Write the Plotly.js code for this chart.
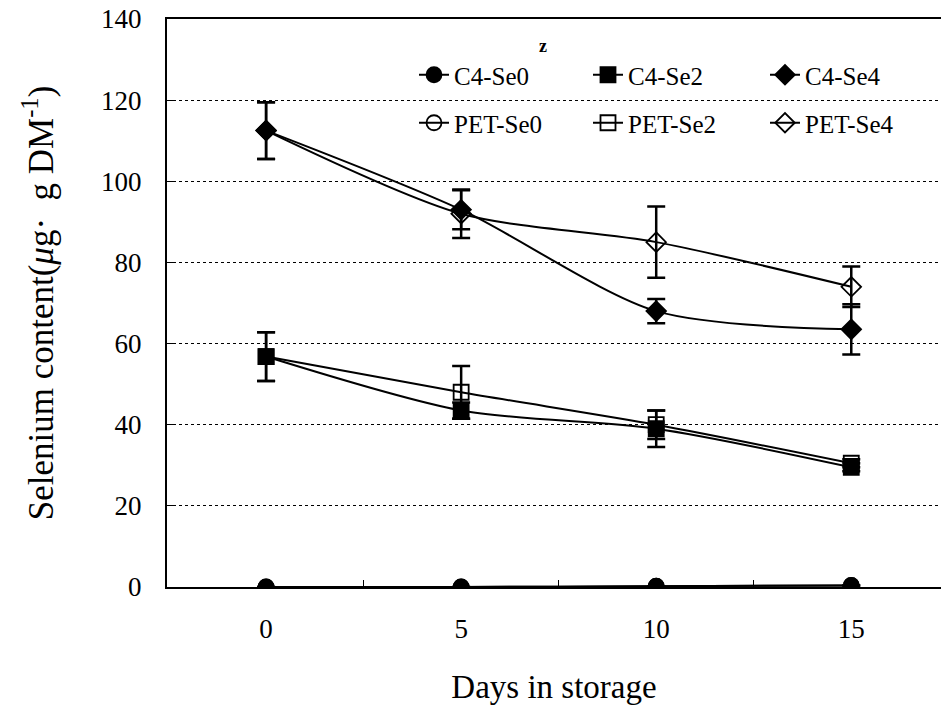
<!DOCTYPE html>
<html>
<head>
<meta charset="utf-8">
<script src="https://cdn.plot.ly/plotly-3.0.1.min.js"></script>
<style>html,body{margin:0;padding:0;background:#fff;}#chart{width:941px;height:714px;}</style>
</head>
<body>
<div id="chart"></div>
<script>
const days = [0, 5, 10, 15];
const tickLabels = ['0', '5', '10', '15'];

const c4Se0 = [0, 0, 0.2, 0.4];
const c4Se0Err = [0, 0, 0, 0];
const petSe0 = [0, 0, 0.2, 0.4];
const petSe0Err = [0, 0, 0, 0];

const c4Se2 = [56.8, 43.5, 39, 29.5];
const c4Se2Err = [6, 2, 4.5, 1];
const petSe2 = [56.8, 48, 40, 30.5];
const petSe2Err = [6, 6.5, 3.5, 1];

const c4Se4 = [112.5, 93, 68, 63.5];
const c4Se4Err = [7, 4.8, 3, 6.2];
const petSe4 = [112.5, 92, 85, 74];
const petSe4Err = [7, 6, 8.8, 5];

const seriesNames = ['C4-Se0', 'C4-Se2', 'C4-Se4', 'PET-Se0', 'PET-Se2', 'PET-Se4'];

const font = '"Liberation Serif", "Times New Roman", serif';

function tr(name, y, err, symbol, legend) {
  return {
    x: days, y: y, name: name, type: 'scatter', mode: 'lines+markers',
    legend: legend,
    line: {color: '#000', width: 2, shape: 'spline', smoothing: 0.8},
    marker: {symbol: symbol, size: 15, color: '#000', line: {color: '#000', width: 1.8}},
    error_y: {type: 'data', array: err, visible: true, color: '#000', thickness: 2.5, width: 9}
  };
}

const data = [
  tr(seriesNames[3], petSe0, petSe0Err, 'circle-open', 'legend4'),
  tr(seriesNames[4], petSe2, petSe2Err, 'square-open', 'legend5'),
  tr(seriesNames[5], petSe4, petSe4Err, 'diamond-open', 'legend6'),
  tr(seriesNames[0], c4Se0, c4Se0Err, 'circle', 'legend'),
  tr(seriesNames[1], c4Se2, c4Se2Err, 'square', 'legend2'),
  tr(seriesNames[2], c4Se4, c4Se4Err, 'diamond', 'legend3')
];

const W = 941, H = 714;
const ML = 167, MR = 0, MT = 19, MB = 127;
const PW = W - ML - MR, PH = H - MT - MB;
function leg(px, py) {
  return {
    orientation: 'v', xref: 'paper', yref: 'paper',
    x: (px - ML) / PW, y: 1 - (py - MT) / PH, xanchor: 'left', yanchor: 'middle',
    bgcolor: 'rgba(0,0,0,0)', borderwidth: 0,
    font: {family: font, size: 25, color: '#000'}
  };
}

const layout = {
  width: W, height: H,
  margin: {l: ML, r: MR, t: MT, b: MB},
  paper_bgcolor: '#fff', plot_bgcolor: '#fff',
  font: {family: font, color: '#000'},
  showlegend: true,
  legend: leg(414, 75),
  legend2: leg(588, 75),
  legend3: leg(765, 75),
  legend4: leg(414, 123),
  legend5: leg(588, 123),
  legend6: leg(765, 123),
  xaxis: {
    range: [-2.54, 17.3], showgrid: false, zeroline: false,
    showline: true, linecolor: '#000', linewidth: 2, mirror: true,
    tickvals: days, ticktext: tickLabels, ticks: '',
    tickfont: {family: font, size: 27, color: '#000'},
    ticklabelstandoff: 17,
    minor: {tickvals: [2.5, 7.5, 12.5], ticks: 'inside', ticklen: 7, tickcolor: '#000', tickwidth: 1, showgrid: false},
    title: {text: 'Days in storage', font: {family: font, size: 33, color: '#000'}, standoff: 31}
  },
  yaxis: {
    range: [0, 140], tickvals: [0, 20, 40, 60, 80, 100, 120, 140],
    showgrid: true, gridcolor: '#000', gridwidth: 1, griddash: 'dot',
    zeroline: false, showline: true, linecolor: '#000', linewidth: 2,
    ticks: 'inside', ticklen: 6, tickcolor: '#000',
    tickfont: {family: font, size: 27, color: '#000'},
    ticklabelstandoff: 18,
    title: {text: 'Selenium content(<i>μ</i>g·&#8194;g DM<sup>-1</sup>)', font: {family: font, size: 35, color: '#000'}, standoff: 37}
  },
  annotations: [{
    text: '<b>z</b>', xref: 'paper', yref: 'paper',
    x: (543 - ML) / PW, y: 1 - (46 - MT) / PH, xanchor: 'center', yanchor: 'middle', showarrow: false,
    font: {family: font, size: 18, color: '#000'}
  }]
};

Plotly.newPlot('chart', data, layout, {displayModeBar: false, staticPlot: true});
</script>
</body>
</html>
